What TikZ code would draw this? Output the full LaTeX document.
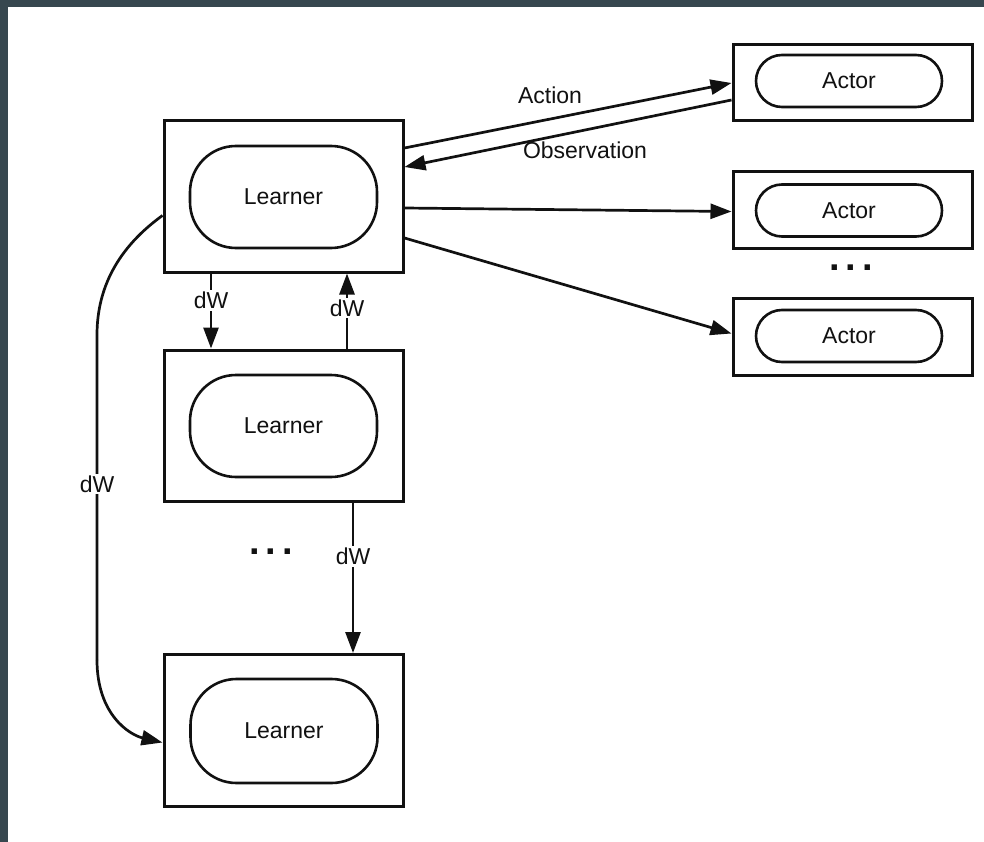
\documentclass[tikz,border=0pt]{standalone}
\usepackage{fontspec}
\setmainfont{Liberation Sans}
\usetikzlibrary{arrows.meta}
\definecolor{frame}{HTML}{37474F}
\definecolor{ink}{HTML}{111111}
\tikzset{
  outerbox/.style={draw=ink, line width=3pt, minimum width=239pt, inner sep=0pt},
  innerbox/.style={draw=ink, line width=2.6pt, inner sep=0pt, text=ink, font=\fontsize{23}{27}\selectfont},
  conn/.style={draw=ink, line width=2.7pt, -{Triangle[length=21pt,width=15pt]}},
  lbl/.style={fill=white, inner sep=2pt, text=ink, font=\fontsize{23}{27}\selectfont},
  dots/.style={inner sep=0pt, text=ink, font=\fontsize{38}{40}\selectfont\bfseries}
}
\begin{document}
\begin{tikzpicture}[x=1pt,y=-1pt]
\fill[frame] (0,0) rectangle (984,842);
\fill[white] (8,7) rectangle (984,842);
\useasboundingbox (0,0) rectangle (984,842);

% Learners
\node[outerbox, minimum height=151pt] (L1) at (283.5,196.5) {};
\node[innerbox, minimum width=187pt, minimum height=102pt, rounded corners=46pt] (L1i) at (283.5,197) {Learner};
\node[outerbox, minimum height=151pt] (L2) at (283.5,425.5) {};
\node[innerbox, minimum width=187pt, minimum height=102pt, rounded corners=46pt] (L2i) at (283.5,426) {Learner};
\node[outerbox, minimum height=152pt] (L3) at (283.5,730.5) {};
\node[innerbox, minimum width=187pt, minimum height=104pt, rounded corners=46pt] (L3i) at (284,731) {Learner};

% Actors
\node[outerbox, minimum height=76pt] (A1) at (852.5,83) {};
\node[innerbox, minimum width=186pt, minimum height=52pt, rounded corners=26pt] (A1i) at (849,81) {Actor};
\node[outerbox, minimum height=76pt] (A2) at (852.5,210) {};
\node[innerbox, minimum width=186pt, minimum height=52pt, rounded corners=26pt] (A2i) at (849,210.5) {Actor};
\node[outerbox, minimum height=77pt] (A3) at (852.5,336.5) {};
\node[innerbox, minimum width=186pt, minimum height=52pt, rounded corners=26pt] (A3i) at (849,336) {Actor};

% dots
\node[dots] (d1) at (851,268) {.\hspace{6pt}.\hspace{6pt}.};
\node[dots] (d2) at (271,552) {.\hspace{6pt}.\hspace{6pt}.};

% Learner-Actor connectors
\draw[conn] ([yshift=48.5pt]L1.east) -- (A1.west);
\node[lbl, fill=none] (act) at (550,95) {Action};
\draw[conn] ([yshift=-17pt]A1.west) -- ([yshift=29.5pt]L1.east);
\node[lbl, fill=none] (obs) at (585,150) {Observation};
\draw[conn] ([yshift=-11.5pt]L1.east) -- ([yshift=-1.5pt]A2.west);
\draw[conn] ([yshift=-41.5pt]L1.east) -- ([yshift=3pt]A3.west);

% dW connectors
\draw[conn] ([xshift=-72.5pt]L1.south) -- node[lbl, pos=0.36] (w1) {dW} ([xshift=-72.5pt]L2.north);
\draw[conn] ([xshift=63.5pt]L2.north) -- node[lbl, pos=0.54] (w2) {dW} ([xshift=63.5pt]L1.south);
\draw[conn] ([xshift=69.5pt]L2.south) -- node[lbl, pos=0.36] (w3) {dW} ([xshift=69.5pt]L3.north);
\coordinate (c1) at (97,335);
\coordinate (c2) at (97,660);
\draw[draw=ink, line width=2.7pt] ([yshift=-19pt]L1.west) .. controls (112,252) and (97,295) .. (c1) -- (c2);
\draw[conn] (c2) .. controls (97,715) and (130,735) .. ([yshift=-12pt]L3.west);
\node[lbl] (w4) at (97,484) {dW};
\end{tikzpicture}
\end{document}
